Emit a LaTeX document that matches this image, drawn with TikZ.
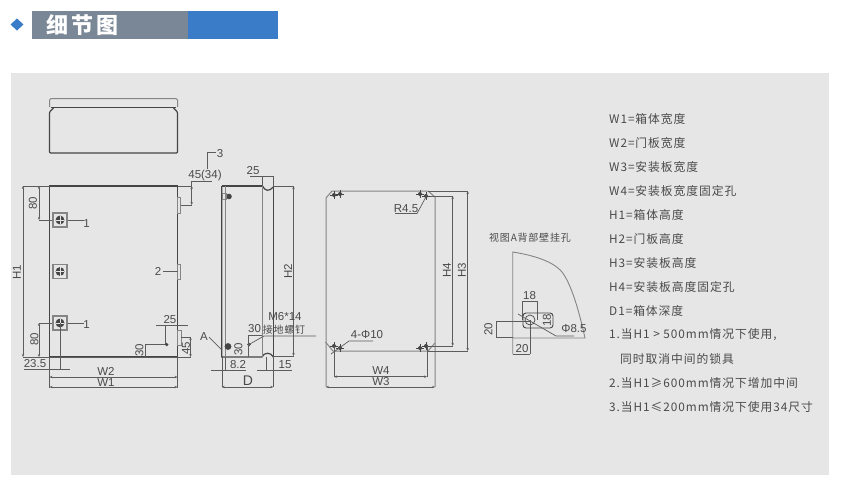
\documentclass[tikz,border=0pt]{standalone}
\usepackage{fontspec}
\setmainfont{Liberation Sans}
\newfontfamily\cjk[LetterSpace=8]{Noto Sans CJK SC}
\newfontfamily\cjkhead[LetterSpace=14]{Noto Sans CJK SC}
\usetikzlibrary{arrows.meta}
\definecolor{panel}{HTML}{E6E6E6}
\definecolor{headgray}{HTML}{7A8797}
\definecolor{headblue}{HTML}{3B7CC9}
\definecolor{ink}{HTML}{454545}
\definecolor{dimc}{HTML}{5C5C5C}
\definecolor{soft}{HTML}{858585}
\definecolor{txt}{HTML}{4A4A4A}
\tikzset{
  outline/.style={draw=ink,line width=1.2pt},
  softline/.style={draw=soft,line width=1pt},
  dimline/.style={draw=dimc,line width=.7pt},
  dimarrow/.style={draw=dimc,line width=.7pt,{Stealth[length=3pt,width=2.4pt]}-{Stealth[length=3pt,width=2.4pt]}},
  lab/.style={font=\fontsize{11.5}{13}\selectfont,text=txt,inner sep=0pt},
  rlab/.style={lab,rotate=90},
  legend/.style={font=\cjk\fontsize{11.8}{14}\selectfont,text=txt,inner sep=0pt,anchor=west},
  locknode/.style={draw=soft,line width=1.3pt,minimum size=14pt,inner sep=0pt,shape=rectangle}
}
\newcommand{\lockat}[3]{%
  \node[locknode] (#1) at (#2,#3) {};
  \fill[ink] (#2,#3) circle (4.4);
  \draw[panel,line width=.4pt] (#2-4.4,#3) -- (#2+4.4,#3) (#2,#3-4.4) -- (#2,#3+4.4);
}
\newcommand{\holeat}[2]{%
  \fill[ink] (#1,#2) circle (2);
  \draw[ink,line width=1pt] (#1-3.6,#2) -- (#1+3.6,#2) (#1,#2-3.6) -- (#1,#2+3.6);
}
\begin{document}
\begin{tikzpicture}[x=1pt,y=-1pt]
\useasboundingbox (0,0) rectangle (860,499);
\fill[white] (0,0) rectangle (860,499);
% header
\fill[headblue] (17,18.5) -- (23.5,24.5) -- (17,30.5) -- (10.5,24.5) -- cycle;
\fill[headgray] (31.5,10.5) rectangle (188,39);
\fill[headblue] (188,10.5) rectangle (277.5,39);
\node[font=\cjkhead\bfseries\fontsize{22}{24}\selectfont,text=white,inner sep=0pt,anchor=west] (headtitle) at (46,25) {细节图};
% panel
\fill[panel] (11,73) rectangle (829,475);
% lid view
\draw[softline,rounded corners=1.5pt] (49.5,107) -- (49.5,98.5) -- (177.5,98.5) -- (177.5,107);
\draw[outline,line width=1.4pt] (51,107.5) -- (176,107.5);
\draw[outline,rounded corners=1pt] (53.5,108) -- (49.5,112) -- (49.5,153) -- (177.5,153) -- (177.5,112) -- (173.5,108);
% front view
\draw[outline] (49.5,186) rectangle (177.5,357);
\draw[dimline] (23,186) -- (49.5,186);
\draw[dimline] (177.5,186) -- (191.7,186);
\draw[dimline] (23,357) -- (191,357);
\draw[dimarrow] (23,186) -- (23,357);
\node[rlab] (h1) at (17,272) {H1};
\draw[softline] (177.5,197) rectangle (180.5,213);
\draw[softline] (177.5,264) rectangle (180.5,279);
\draw[softline] (177.5,330) rectangle (181,345);
\lockat{locka}{60}{220}
\lockat{lockb}{60}{271.5}
\lockat{lockc}{60}{323}
\draw[dimarrow] (39,186) -- (39,220);
\draw[dimline] (39,220) -- (locka.west);
\node[rlab] (d80a) at (33,203) {80};
\draw[dimline] (locka.east) -- (84,220);
\node[lab] (one1) at (86.5,223.5) {1};
\draw[dimarrow] (39,323) -- (39,357);
\draw[dimline] (39,323) -- (lockc.west);
\node[rlab] (d80b) at (34.5,339) {80};
\draw[dimline] (lockc.east) -- (84,323);
\node[lab] (one2) at (86.5,324.5) {1};
\draw[dimline] (lockc.center) -- (60,369.5);
\draw[dimline] (24,369.5) -- (70,369.5);
\draw[dimline] (49.5,357) -- (49.5,388);
\draw[dimline] (177.5,357) -- (177.5,388);
\node[lab] (d235) at (35,364) {23.5};
\draw[dimarrow] (49.5,377) -- (177.5,377);
\node[lab] (w2) at (106,371) {W2};
\draw[dimarrow] (49.5,387) -- (177.5,387);
\node[lab] (w1) at (106,383) {W1};
\node[lab] (two) at (158,271.5) {2};
\draw[dimline] (163,271.5) -- (177.5,271.5);
% 45(34) & 3
\draw[dimarrow] (191.7,186) -- (191.7,205);
\draw[dimline] (181,205) -- (191.7,205);
\node[lab] (d4534) at (205,175.5) {45(34)};
\draw[dimline] (191.7,186) -- (191.7,181) -- (212,181);
\draw[dimline] (207,169) -- (207,152) -- (216,152);
\node[lab] (three) at (220,154) {3};
% lower right front dims
\node[lab] (d25a) at (170,320) {25};
\draw[dimline] (156,325) -- (188,325);
\draw[dimline] (165.7,325) -- (165.7,344.5) -- (145,344.5) -- (145,357);
\fill[ink] (166.7,344.5) circle (1.8);
\node[rlab] (d30a) at (139.5,350) {30};
\draw[dimline] (181,337) -- (190.5,337);
\draw[dimarrow] (190.5,337) -- (190.5,357);
\node[rlab] (d45) at (186,348) {45};
% side view
\draw[outline] (221.7,186) -- (263,186);
\draw[outline] (262.5,186) .. controls (265,191) and (269,192) .. (273.3,187);
\draw[outline] (273.3,186) -- (273.3,357);
\draw[outline] (221.7,186) -- (221.7,357) -- (262,357) .. controls (264,352) and (271,352) .. (273.3,357);
\draw[softline] (225,186) -- (225,357);
\draw[softline] (262,186) -- (262,357);
\fill[ink] (229,196.5) circle (2.8);
\draw[soft,line width=.8pt] (222.5,193) rectangle (226,199);
\draw[dimline] (273.3,186) -- (293.5,186);
\draw[dimline] (273.3,356) -- (293.5,356);
\draw[dimarrow] (293.5,186) -- (293.5,356);
\node[rlab] (h2) at (288,271) {H2};
\node[lab] (d25b) at (253,171) {25};
\draw[dimline] (250,176.7) -- (274,176.7);
\draw[dimline] (262,176.7) -- (262,186);
\draw[dimline] (273.3,176.7) -- (273.3,186);
\node[lab] (labA) at (204,337) {A};
\draw[dimline] (209,337) -- (222,350);
\fill[ink] (228,346.5) circle (3.4);
\node[rlab] (d30b) at (238.5,349) {30};
\fill[ink] (249,344.5) circle (1.8);
\draw[dimline] (248,335) -- (262,335);
\draw[dimline] (248,335) -- (248,357);
\draw[dimline] (249,344.5) -- (264,336) -- (316,336);
\node[lab] (m614) at (285,317) {M6*14};
\node[lab] (d30c) at (254.5,329) {30};
\node[font=\cjk\fontsize{10}{12}\selectfont,text=txt,inner sep=0pt,anchor=center] (gnd) at (284,330) {接地螺钉};
\draw[dimline] (211,370) -- (246,370);
\draw[dimline] (222,357) -- (222,387);
\draw[dimline] (225,357) -- (225,370);
\node[lab] (d82) at (238,365) {8.2};
\draw[dimline] (257,370) -- (291.5,370);
\draw[dimline] (266.7,357) -- (266.7,370);
\draw[dimline] (273.3,357) -- (273.3,387);
\node[lab] (d15) at (285,365) {15};
\draw[dimarrow] (221.7,387) -- (273.3,387);
\node[lab,font=\fontsize{14}{16}\selectfont] (dD) at (248,380.5) {D};
% mounting plate
\draw[softline] (326,387) -- (326,198) -- (332,191) -- (428,191) -- (435,197) -- (435,387);
\draw[softline] (325.5,342) -- (333,351) -- (428,351) -- (435,343);
\draw[dimline] (428,191) -- (467.7,191);
\draw[dimline] (427,196) -- (452.7,196);
\draw[dimline] (427,346) -- (452.7,346);
\draw[dimline] (428,351) -- (467.7,351);
\draw[dimarrow] (452.7,196) -- (452.7,346);
\draw[dimarrow] (467.7,191) -- (467.7,351);
\node[rlab] (h4) at (447,270) {H4};
\node[rlab] (h3) at (462,270) {H3};
\holeat{334}{195}
\holeat{340}{194}
\holeat{420}{194}
\holeat{426}{196}
\holeat{334}{346}
\holeat{340}{348}
\holeat{420}{348}
\holeat{426}{346}
\draw[dimline] (334,346) -- (334,377);
\draw[dimline] (427,346) -- (427,377);
\draw[dimarrow] (334,376.7) -- (427,376.7);
\node[lab] (w4) at (381,371) {W4};
\draw[dimarrow] (326,387) -- (435,387);
\node[lab] (w3) at (381,382) {W3};
\node[lab] (r45) at (406,208.5) {R4.5};
\draw[dimline] (395,213.5) -- (417,213.5) -- (427,195);
\node[lab] (phi10) at (367,334.5) {4-Φ10};
\draw[dimline] (373,341) -- (349,341) -- (331,354);
% detail view
\node[font=\cjk\fontsize{10}{12}\selectfont,text=txt,inner sep=0pt,anchor=center] (viewA) at (530,237.5) {视图A背部壁挂孔};
\draw[softline,line width=.9pt] (512.7,354) -- (512.7,252) .. controls (532,255) and (553,261) .. (562,272) .. controls (572,285) and (580,315) .. (585,338) -- (512.7,338);
\draw[dimline] (512.7,354) -- (530,354);
\draw[dimline] (530,320) -- (530,354);
\node[lab] (d20a) at (522,348.5) {20};
\draw[dimline] (522.3,320) -- (522.3,301) -- (537,301) -- (537,320);
\node[lab] (d18a) at (529.5,296) {18};
\draw[ink,line width=.9pt,rounded corners=3pt] (523,313) rectangle (553,328);
\draw[dimline] (496,321) -- (530,321);
\draw[dimline] (496,337) -- (513,337);
\draw[dimline] (496,321) -- (496,337);
\node[rlab] (d20b) at (488.5,329) {20};
\node[rlab] (d18b) at (547,320.5) {18};
\draw[ink,line width=.7pt] (530,320) circle (5);
\draw[dimline] (518,314) -- (556,336) -- (574,336);
\node[lab] (phi85) at (574,329) {Φ8.5};
% legend
\node[legend] (t1) at (609,119) {W1=箱体宽度};
\node[legend] (t2) at (609,143) {W2=门板宽度};
\node[legend] (t3) at (609,167) {W3=安装板宽度};
\node[legend] (t4) at (609,191) {W4=安装板宽度固定孔};
\node[legend] (t5) at (609,215) {H1=箱体高度};
\node[legend] (t6) at (609,239) {H2=门板高度};
\node[legend] (t7) at (609,263) {H3=安装板高度};
\node[legend] (t8) at (609,287) {H4=安装板高度固定孔};
\node[legend] (t9) at (609,311) {D1=箱体深度};
\node[legend] (t10) at (609,335) {1.当H1 > 500mm情况下使用,};
\node[legend] (t11) at (620,359) {同时取消中间的锁具};
\node[legend] (t12) at (609,383) {2.当H1≥600mm情况下增加中间};
\node[legend] (t13) at (609,407) {3.当H1≤200mm情况下使用34尺寸};
\end{tikzpicture}
\end{document}
